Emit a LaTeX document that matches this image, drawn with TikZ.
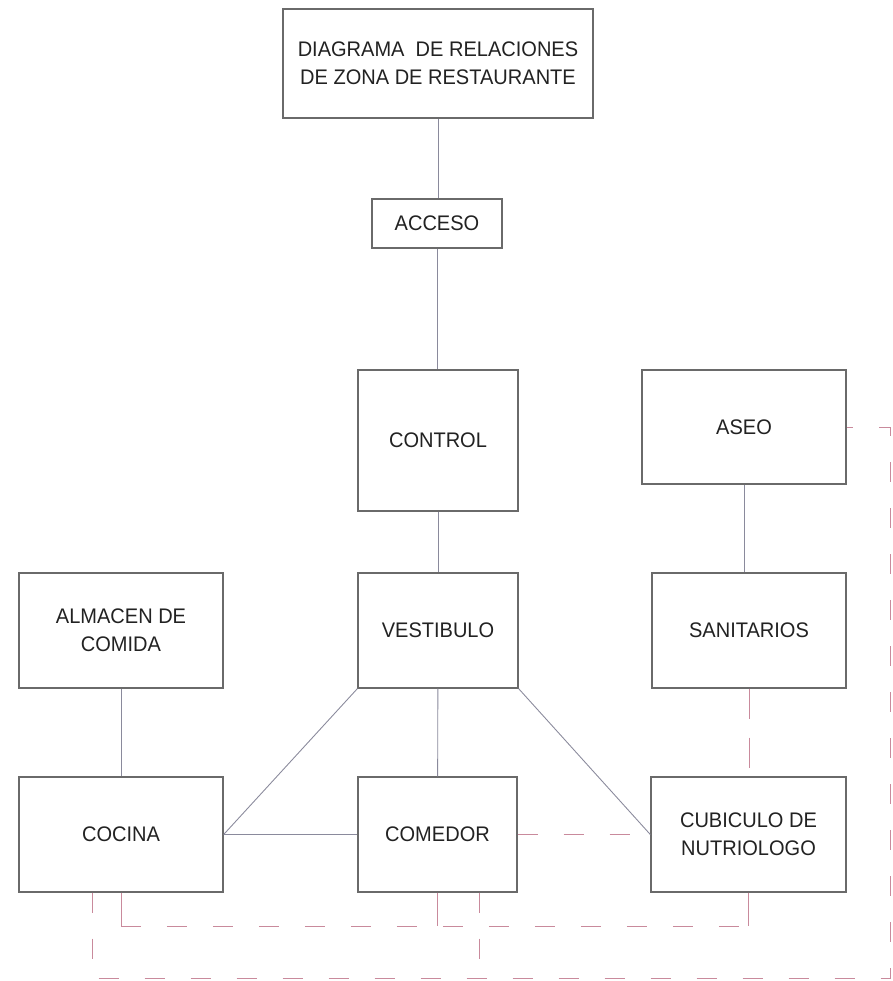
\documentclass[tikz,border=0pt]{standalone}
\usepackage{fontspec}
\setmainfont{Liberation Sans}[FakeStretch=0.95]
\usetikzlibrary{calc}
\definecolor{tinta}{HTML}{222222}
\definecolor{borde}{HTML}{6A6A6A}
\definecolor{gris}{HTML}{8A8A9C}
\definecolor{rosa}{HTML}{C98A9C}

\begin{document}
\begin{tikzpicture}[x=.02cm,y=-.02cm,line width=.5pt,every node/.style={font=\fontsize{12}{16}\selectfont,text=tinta,align=center},caja/.style={draw=borde,line width=.8pt,inner sep=0pt},enlace/.style={gris},discontinua/.style={rosa,dash pattern=on .4cm off .52cm}]
\path[use as bounding box,fill=white] (0,0) rectangle (893,981);

% bloques
\node[caja,minimum width=6.2cm,minimum height=2.18cm] (titulo) at (438,63.5) {DIAGRAMA\ \ DE RELACIONES\\DE ZONA DE RESTAURANTE};
\node[caja,minimum width=2.6cm,minimum height=.98cm] (acceso) at (437,223.5) {ACCESO};
\node[caja,minimum width=3.2cm,minimum height=2.82cm] (control) at (438,440.5) {CONTROL};
\node[caja,minimum width=4.08cm,minimum height=2.28cm] (aseo) at (744,427) {ASEO};
\node[caja,minimum width=4.08cm,minimum height=2.3cm] (almacen) at (121,630.5) {ALMACEN DE\\COMIDA};
\node[caja,minimum width=3.2cm,minimum height=2.3cm] (vestibulo) at (438,630.5) {VESTIBULO};
\node[caja,minimum width=3.88cm,minimum height=2.3cm] (sanitarios) at (749,630.5) {SANITARIOS};
\node[caja,minimum width=4.08cm,minimum height=2.3cm] (cocina) at (121,834.5) {COCINA};
\node[caja,minimum width=3.18cm,minimum height=2.3cm] (comedor) at (437.5,834.5) {COMEDOR};
\node[caja,minimum width=3.9cm,minimum height=2.3cm] (cubiculo) at (748.5,834.5) {CUBICULO DE\\NUTRIOLOGO};

% relaciones directas
\draw[enlace] (titulo.south) -- (titulo.south |- acceso.north);
\draw[enlace] (acceso.south) -- (acceso.south |- control.north);
\draw[enlace] (control) -- (vestibulo);
\draw[enlace] (vestibulo) -- (comedor);
\draw[enlace] (almacen) -- (cocina);
\draw[enlace] (aseo.south) -- (aseo.south |- sanitarios.north);
\draw[enlace] (vestibulo.south west) -- (cocina.east);
\draw[enlace] (vestibulo.south east) -- (cubiculo.west);
\draw[enlace] (cocina.east) -- (comedor.west);

% relaciones indirectas
\draw[discontinua] (comedor.east) -- (cubiculo.west);
\draw[rosa,dash pattern=on .6cm off .38cm] (sanitarios.south) -- (sanitarios.south |- cubiculo.north);
\coordinate (bajo1) at (0,926);
\coordinate (bajo2) at (0,978);
\coordinate (esquina) at (890,427);
\draw[rosa] (cocina.south) -- (cocina.south |- bajo1);
\draw[rosa] (comedor.south) -- (comedor.south |- bajo1);
\draw[rosa] (cubiculo.south) -- (cubiculo.south |- bajo1);
\draw[discontinua] (cocina.south |- bajo1) -- (cubiculo.south |- bajo1);
\draw[discontinua] ($(cocina.south)+(-29,0)$) |- (bajo2 -| esquina) -- (esquina) -- (aseo.east);
\draw[discontinua] ($(comedor.south)+(41.5,0)$) -- ($(comedor.south |- bajo2)+(41.5,0)$);

\end{tikzpicture}
\end{document}
